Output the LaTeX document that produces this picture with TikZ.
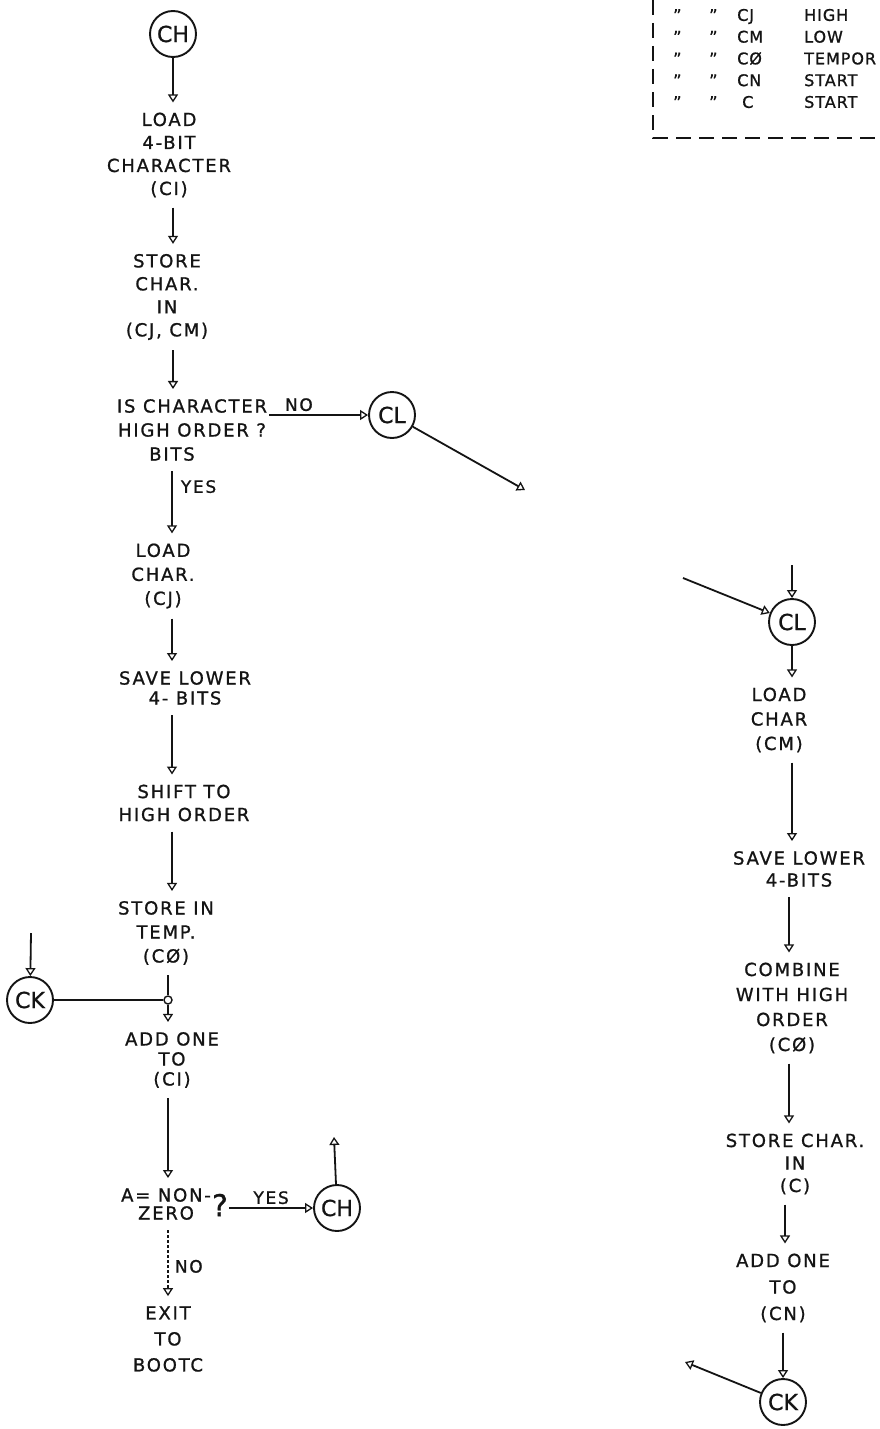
\documentclass[tikz,border=0pt]{standalone}
\usepackage{fontspec}
\setmainfont{DejaVu Sans}[LetterSpace=10, FakeBold=1]
\usepackage{tikz}
\usetikzlibrary{calc,arrows.meta}
\definecolor{ink}{HTML}{141414}
\definecolor{paper}{HTML}{FFFFFF}
\tikzset{
  flow/.style={draw=ink, line width=1.8pt, -{Triangle[open,length=8pt,width=10pt,line width=1.3pt]}},
  wire/.style={draw=ink, line width=1.8pt},
  conn/.style={circle, draw=ink, line width=1.9pt, minimum size=46pt, inner sep=0pt, text=ink,
    font=\fontsize{22}{22}\selectfont\addfontfeature{LetterSpace=0}},
  tap/.style={circle, draw=ink, line width=1.4pt, minimum size=8pt, inner sep=0pt},
  blk/.style={align=center, text=ink, inner xsep=2pt, inner ysep=10pt, font=\fontsize{18}{#1}\selectfont},
  blk/.default=23,
  lab/.style={text=ink, inner sep=3pt, font=\fontsize{17}{17}\selectfont},
  leg/.style={text=ink, anchor=west, align=left, inner sep=0pt,
    font=\fontsize{16}{21.75}\selectfont\addfontfeature{LetterSpace=6}},
}

\begin{document}
\begin{tikzpicture}[x=1pt,y=-1pt]
  \useasboundingbox[fill=paper] (0,0) rectangle (879,1429);

  % legend, cut off by the page edge
  \draw[wire, line width=1.7pt, dash pattern=on 15pt off 8pt] (653,0) -- (653,138) -- (879,138);
  \node[leg] (legA) at (673,58.5) {"\\"\\"\\"\\"};
  \node[leg] (legB) at (709,58.5) {"\\"\\"\\"\\"};
  \node[leg] (legC) at (737,58.5) {CJ\\CM\\CØ\\CN\\\hspace*{5pt}C};
  \node[leg] (legD) at (804,58.5) {HIGH\\LOW\\TEMPOR\\START\\START};

  % columns of the vertical arrows
  \coordinate (La) at (173,0);
  \coordinate (Lb) at (172,0);
  \coordinate (Lc) at (168,0);
  \coordinate (Ra) at (792,0);
  \coordinate (Rb) at (789,0);
  \coordinate (Rc) at (785,0);

  % left chain
  \node[conn] (ch1) at (173,34) {CH};
  \node[blk] (ldci) at (169,155) {LOAD\\4-BIT\\CHARACTER\\(CI)};
  \node[blk] (stjm) at (167,297) {STORE\\CHAR.\\IN\\(CJ, CM)};
  \node[blk=24] (hiq) at (192,430) {IS CHARACTER\\HIGH ORDER ?\\BITS\hspace*{40pt}};
  \node[conn] (cl1) at (392,415) {CL};
  \coordinate (clout) at (525,490);
  \node[blk=24] (ldcj) at (163,576) {LOAD\\CHAR.\\(CJ)};
  \node[blk=20] (svlo) at (185,688) {SAVE LOWER\\4- BITS};
  \node[blk] (shhi) at (184,803) {SHIFT TO\\HIGH ORDER};
  \node[blk=24] (sttm) at (166,933) {STORE IN\\TEMP.\\(CØ)};
  \node[tap] (jn) at (168,1000) {};
  \node[conn] (ck1) at (30,1000) {CK};
  \coordinate (ckin) at (31,933);
  \node[blk=20] (adci) at (172,1060) {ADD ONE\\TO\\(CI)};
  \node[blk=18] (nz) at (166,1204) {A= NON-\\ZERO};
  \node[text=ink, inner sep=1pt, font=\fontsize{30}{30}\selectfont\addfontfeature{LetterSpace=0}] (qm) at (220,1205) {?};
  \node[conn] (ch2) at (337,1208) {CH};
  \coordinate (chup) at (334,1137);
  \node[blk=26] (exit) at (168,1339) {EXIT\\TO\\BOOTC};

  \draw[flow] (ch1) -- (ch1 |- ldci.north);
  \draw[flow] (La |- ldci.south) -- (La |- stjm.north);
  \draw[flow] (La |- stjm.south) -- (La |- hiq.north);
  \draw[flow] (cl1 -| hiq.east) -- (cl1) node[lab, pos=0.3, above] {NO};
  \draw[flow] (cl1) -- (clout);
  \draw[flow] (Lb |- hiq.south) -- (Lb |- ldcj.north) node[lab, pos=0.25, right=5pt] {YES};
  \draw[flow] (Lb |- ldcj.south) -- (Lb |- svlo.north);
  \draw[flow] (Lb |- svlo.south) -- (Lb |- shhi.north);
  \draw[flow] (Lb |- shhi.south) -- (Lb |- sttm.north);
  \draw[wire] (Lc |- sttm.south) -- (jn);
  \draw[flow] (ckin) -- (ck1);
  \draw[wire] (ck1) -- (jn);
  \draw[flow] (jn) -- (Lc |- adci.north);
  \draw[flow] (Lc |- adci.south) -- (Lc |- nz.north);
  \draw[flow] (qm.east |- ch2) -- (ch2) node[lab, midway, above] {YES};
  \draw[flow] (ch2) -- (chup);
  \draw[flow, dash pattern=on 3pt off 2pt] (Lc |- nz.south) -- (Lc |- exit.north) node[lab, pos=0.55, right=3pt] {NO};

  % right chain
  \coordinate (cltop) at (792,565);
  \coordinate (clin) at (683,578);
  \node[conn] (cl2) at (792,622) {CL};
  \node[blk=24.5] (ldcm) at (779,720) {LOAD\\CHAR\\(CM)};
  \node[blk=22] (svlo2) at (799,869) {SAVE LOWER\\4-BITS};
  \node[blk=25] (cmb) at (792,1008) {COMBINE\\WITH HIGH\\ORDER\\(CØ)};
  \node[blk=22.5] (stc) at (795,1164) {STORE CHAR.\\IN\\(C)};
  \node[blk=26.5] (adcn) at (783,1288) {ADD ONE\\TO\\(CN)};
  \node[conn] (ck2) at (783,1402) {CK};
  \coordinate (ckout) at (685,1362);

  \draw[flow] (cltop) -- (cl2);
  \draw[flow] (clin) -- (cl2);
  \draw[flow] (cl2) -- (Ra |- ldcm.north);
  \draw[flow] (Ra |- ldcm.south) -- (Ra |- svlo2.north);
  \draw[flow] (Rb |- svlo2.south) -- (Rb |- cmb.north);
  \draw[flow] (Rb |- cmb.south) -- (Rb |- stc.north);
  \draw[flow] (Rc |- stc.south) -- (Rc |- adcn.north);
  \draw[flow] (ck2 |- adcn.south) -- (ck2);
  \draw[flow] (ck2) -- (ckout);
\end{tikzpicture}
\end{document}
